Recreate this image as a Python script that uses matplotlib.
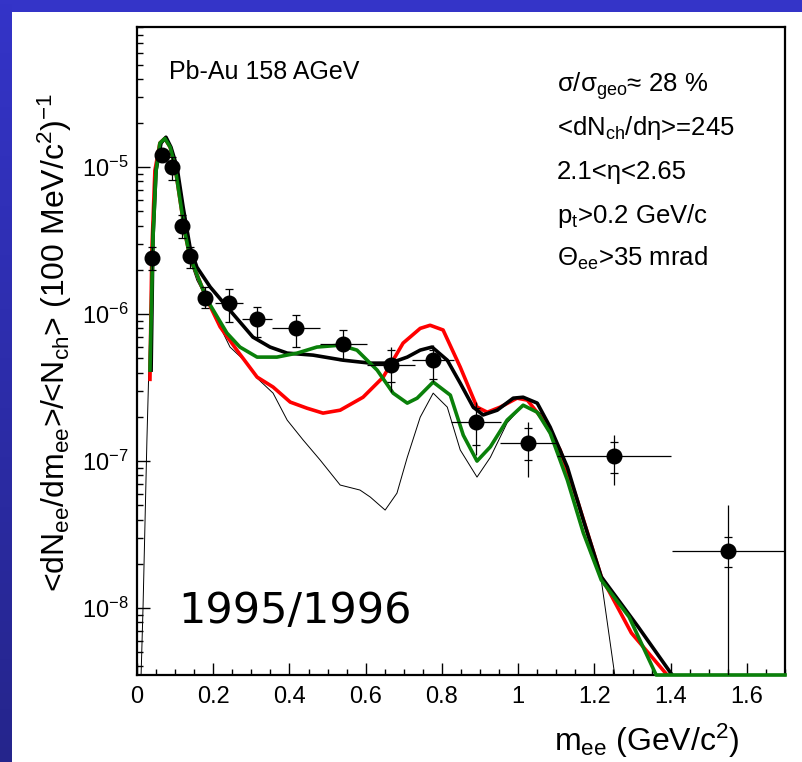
import numpy as np
import matplotlib
matplotlib.use("Agg")
import matplotlib.pyplot as plt
from matplotlib.ticker import MultipleLocator, FuncFormatter, LogLocator

plt.rcParams['font.family'] = ['Liberation Sans', 'DejaVu Sans']
plt.rcParams['mathtext.default'] = 'regular'

# =========================
# Data
# =========================

# thin black line : hadron cocktail
cocktail_x = [0.010, 0.016, 0.026, 0.031, 0.039, 0.047, 0.060, 0.073, 0.087, 0.100,
              0.113, 0.126, 0.139, 0.157, 0.184, 0.218, 0.244, 0.289, 0.315, 0.357,
              0.394, 0.436, 0.480, 0.533, 0.585, 0.612, 0.651, 0.682, 0.709, 0.743,
              0.777, 0.814, 0.848, 0.892, 0.927, 0.971, 1.013, 1.058, 1.102, 1.144,
              1.189, 1.218, 1.257]
cocktail_y = [3.0e-9, 1.05e-8, 1.39e-7, 4.16e-7, 2.72e-6, 9.5e-6, 1.46e-5, 1.57e-5, 1.37e-5, 1.0e-5,
              5.97e-6, 3.56e-6, 2.33e-6, 1.70e-6, 1.25e-6, 8.2e-7, 5.97e-7, 4.64e-7, 3.67e-7, 2.90e-7,
              1.90e-7, 1.39e-7, 1.02e-7, 6.87e-8, 6.35e-8, 5.69e-8, 4.64e-8, 6.05e-8, 1.06e-7, 1.99e-7,
              2.90e-7, 2.33e-7, 1.19e-7, 7.78e-8, 1.06e-7, 1.82e-7, 2.40e-7, 2.12e-7, 1.25e-7, 5.69e-8,
              2.37e-8, 1.55e-8, 3.0e-9]

# thick black line
black_x = [0.037, 0.042, 0.050, 0.063, 0.076, 0.089, 0.105, 0.121, 0.139, 0.157,
           0.192, 0.244, 0.304, 0.349, 0.394, 0.462, 0.541, 0.612, 0.664, 0.709,
           0.743, 0.774, 0.814, 0.848, 0.882, 0.908, 0.945, 0.987, 1.013, 1.050,
           1.084, 1.129, 1.171, 1.218, 1.315, 1.404]
black_y = [4.16e-7, 3.34e-6, 9.5e-6, 1.46e-5, 1.60e-5, 1.37e-5, 1.0e-5, 5.35e-6, 2.86e-6, 2.09e-6,
           1.53e-6, 1.06e-6, 6.98e-7, 5.97e-7, 5.43e-7, 5.26e-7, 4.86e-7, 4.64e-7, 4.64e-7, 5.10e-7,
           5.69e-7, 5.97e-7, 4.86e-7, 3.39e-7, 2.33e-7, 2.06e-7, 2.22e-7, 2.68e-7, 2.72e-7, 2.48e-7,
           1.70e-7, 9.1e-8, 3.97e-8, 1.63e-8, 7.43e-9, 3.5e-9]

# red line
red_x = [0.034, 0.039, 0.047, 0.060, 0.073, 0.087, 0.100, 0.113, 0.126, 0.139,
         0.184, 0.218, 0.262, 0.315, 0.357, 0.402, 0.446, 0.488, 0.533, 0.593,
         0.646, 0.698, 0.743, 0.769, 0.803, 0.848, 0.892, 0.919, 0.953, 0.997,
         1.024, 1.066, 1.110, 1.155, 1.218, 1.297, 1.391]
red_y = [3.6e-7, 2.72e-6, 9.5e-6, 1.46e-5, 1.57e-5, 1.37e-5, 1.0e-5, 5.97e-6, 3.56e-6, 2.44e-6,
         1.25e-6, 8.2e-7, 5.69e-7, 3.73e-7, 3.19e-7, 2.52e-7, 2.29e-7, 2.12e-7, 2.22e-7, 2.72e-7,
         3.73e-7, 6.35e-7, 8.0e-7, 8.4e-7, 7.8e-7, 4.36e-7, 2.33e-7, 2.15e-7, 2.33e-7, 2.68e-7,
         2.60e-7, 1.90e-7, 1.19e-7, 5.43e-8, 1.63e-8, 6.76e-9, 3.5e-9]

# green line
green_x = [0.034, 0.037, 0.042, 0.050, 0.060, 0.073, 0.087, 0.100, 0.113, 0.126,
           0.139, 0.184, 0.236, 0.270, 0.315, 0.367, 0.420, 0.472, 0.533, 0.577,
           0.630, 0.672, 0.709, 0.735, 0.777, 0.822, 0.856, 0.892, 0.927, 0.971,
           1.013, 1.050, 1.084, 1.129, 1.171, 1.218, 1.291, 1.362, 1.700]
green_y = [4.16e-7, 9.1e-7, 3.34e-6, 9.5e-6, 1.46e-5, 1.57e-5, 1.37e-5, 1.0e-5, 5.97e-6, 3.56e-6,
           2.44e-6, 1.25e-6, 7.43e-7, 5.97e-7, 5.10e-7, 5.10e-7, 5.43e-7, 5.97e-7, 6.15e-7, 5.69e-7,
           4.16e-7, 2.90e-7, 2.48e-7, 2.68e-7, 3.45e-7, 2.81e-7, 1.50e-7, 1.0e-7, 1.25e-7, 1.90e-7,
           2.40e-7, 2.15e-7, 1.55e-7, 7.43e-8, 3.24e-8, 1.55e-8, 8.69e-9, 3.5e-9, 3.5e-9]

# measured points 1995/1996
data_x = [0.039, 0.066, 0.092, 0.118, 0.139, 0.178, 0.241, 0.315, 0.417, 0.541,
          0.667, 0.777, 0.890, 1.027, 1.252, 1.551]
data_y = [2.4e-6, 1.22e-5, 1.0e-5, 3.97e-6, 2.48e-6, 1.29e-6, 1.19e-6, 9.2e-7, 8.0e-7, 6.25e-7,
          4.5e-7, 4.87e-7, 1.84e-7, 1.32e-7, 1.08e-7, 2.44e-8]
data_xerr = [0, 0, 0, 0, 0, 0, 0.037, 0.040, 0.063, 0.062,
             0.063, 0.055, 0.066, 0.074, 0.150, 0.148]
stat_lo = [1.99e-6, 1.15e-5, 8.2e-6, 3.29e-6, 2.06e-6, 1.10e-6, 8.8e-7, 6.98e-7, 5.96e-7, 4.86e-7,
           2.95e-7, 3.45e-7, 1.10e-7, 7.78e-8, 6.87e-8, 1e-10]
stat_hi = [2.86e-6, 1.30e-5, 1.17e-5, 4.7e-6, 2.86e-6, 1.53e-6, 1.48e-6, 1.12e-6, 9.85e-7, 7.78e-7,
           5.97e-7, 6.15e-7, 2.52e-7, 1.84e-7, 1.50e-7, 5.02e-8]
sys_lo = [1.99e-6, 1.15e-5, 8.2e-6, 3.29e-6, 2.06e-6, 1.10e-6, 8.8e-7, 6.98e-7, 5.96e-7, 4.86e-7,
          3.45e-7, 3.6e-7, 1.28e-7, 1.02e-7, 8.29e-8, 1.90e-8]
sys_hi = [2.86e-6, 1.30e-5, 1.17e-5, 4.7e-6, 2.86e-6, 1.53e-6, 1.48e-6, 1.12e-6, 9.85e-7, 7.78e-7,
          5.69e-7, 5.7e-7, 2.29e-7, 1.68e-7, 1.35e-7, 3.04e-8]

info_lines = ["σ/σ$_{geo}$≈ 28 %", "<dN$_{ch}$/dη>=245", "2.1<η<2.65",
              "p$_{t}$>0.2 GeV/c", "Θ$_{ee}$>35 mrad"]

y_min, y_max = 3.5e-9, 9e-5

# =========================
# Figure / slide background
# =========================

W, H = 803, 762
fig = plt.figure(figsize=(W / 100, H / 100), dpi=100)
fig.patch.set_facecolor("#3434c8")

# darker blue toward the bottom of the left strip
strip = fig.add_axes([0, 0, 12 / W, 1])
strip.imshow(np.linspace(0, 1, 200).reshape(-1, 1), aspect="auto",
             cmap=matplotlib.colors.LinearSegmentedColormap.from_list("b", ["#3434c8", "#25258c"]))
strip.axis("off")

panel = fig.add_axes([12 / W, 0, 1 - 12 / W, (H - 12) / H])
panel.set_facecolor("white")
panel.set_xticks([])
panel.set_yticks([])
for s in panel.spines.values():
    s.set_visible(False)

ax = fig.add_axes([137 / W, 87 / H, 648 / W, 648 / H])
ax.set_facecolor("white")

# =========================
# Curves
# =========================

ax.plot(cocktail_x, cocktail_y, color="black", lw=0.7, zorder=2)
ax.plot(red_x, red_y, color="#ff0000", lw=2.6, zorder=3)
ax.plot(black_x, black_y, color="black", lw=2.6, zorder=4)
ax.plot(green_x, np.maximum(green_y, y_min), color="#0a800a", lw=2.6, zorder=5,
        clip_on=False)

# =========================
# Data points
# =========================

dy = np.array(data_y)
ax.errorbar(data_x, data_y, xerr=data_xerr,
            yerr=[dy - np.array(stat_lo), np.array(stat_hi) - dy],
            fmt="o", color="black", ms=10.5, elinewidth=0.9, capsize=0, zorder=6)
ax.errorbar(data_x, data_y,
            yerr=[dy - np.array(sys_lo), np.array(sys_hi) - dy],
            fmt="none", ecolor="black", elinewidth=0, capsize=3, capthick=0.9, zorder=6)

# =========================
# Axes
# =========================

ax.set_yscale("log")
ax.set_xlim(0, 1.7)
ax.set_ylim(y_min, y_max)

ax.xaxis.set_major_locator(MultipleLocator(0.2))
ax.xaxis.set_minor_locator(MultipleLocator(0.05))
ax.xaxis.set_major_formatter(FuncFormatter(lambda v, p: f"{v:g}"))
ax.yaxis.set_major_locator(LogLocator(base=10, numticks=10))
ax.yaxis.set_minor_locator(LogLocator(base=10, subs=np.arange(2, 10), numticks=20))

ax.tick_params(which="both", direction="in", top=False, right=False, labelsize=17)
ax.tick_params(which="major", length=9, width=1.0)
ax.tick_params(which="minor", length=4.5, width=1.0)
ax.tick_params(axis="x", pad=8)
ax.tick_params(axis="y", pad=6)
for s in ax.spines.values():
    s.set_linewidth(1.6)

# =========================
# Texts
# =========================

ax.text(0.050, 0.920, "Pb-Au 158 AGeV", transform=ax.transAxes, fontsize=18,
        va="baseline", ha="left")
for i, line in enumerate(info_lines):
    ax.text(0.648, 0.900 - i * 0.0673, line, transform=ax.transAxes, fontsize=18.5,
            va="baseline", ha="left")
ax.text(0.063, 0.080, "1995/1996", transform=ax.transAxes, fontsize=31,
        family="DejaVu Sans", va="baseline", ha="left")

fig.text(740 / W, 11 / H, "m$_{ee}$ (GeV/c$^{2}$)", fontsize=23, ha="right",
         va="baseline")
fig.text(55 / W, 1 - 342 / H, "<dN$_{ee}$/dm$_{ee}$>/<N$_{ch}$> (100 MeV/c$^{2}$)$^{-1}$",
         fontsize=23, rotation=90, ha="center", va="center")

fig.savefig("out.png", dpi=100, facecolor=fig.get_facecolor())
